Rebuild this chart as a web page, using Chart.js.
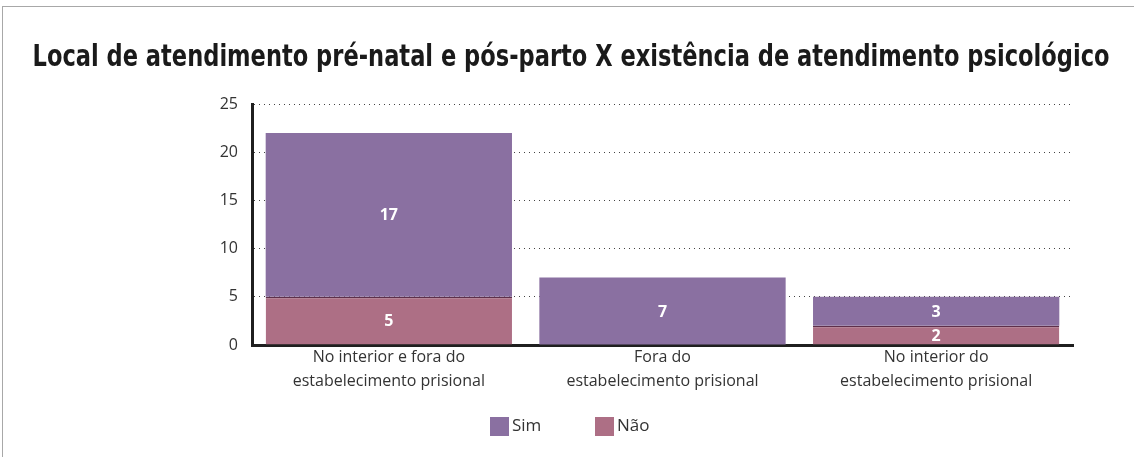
<!DOCTYPE html>
<html>
<head>
<meta charset="utf-8">
<script src="https://cdn.jsdelivr.net/npm/chart.js@4"></script>
<style>
  html, body { margin: 0; padding: 0; background: #fff; }
  #wrap { position: relative; width: 1134px; height: 457px; }
  #frame {
    position: absolute; left: 2px; top: 6px; right: 0; bottom: 0;
    border-top: 1px solid #a8a8a8; border-left: 1px solid #a8a8a8;
    pointer-events: none;
  }
</style>
</head>
<body>
<div id="wrap">
  <canvas id="chart" width="1134" height="457"></canvas>
  <div id="frame"></div>
</div>
<script>
const chartTitle = 'Local de atendimento pré-natal e pós-parto X existência de atendimento psicológico';
const categories = [
    ['No interior e fora do', 'estabelecimento prisional'],
    ['Fora do', 'estabelecimento prisional'],
    ['No interior do', 'estabelecimento prisional']
];
const simValues = [17, 7, 3];
const naoValues = [5, 0, 2];
const yTicks = [0, 5, 10, 15, 20, 25];
const legendOrder = ['Sim', 'Não'];

const textColor = '#333333';

// title drawn centred on the whole page, squeezed to the original's width
const pageTitle = {
    id: 'pageTitle',
    afterDraw(chart) {
        const ctx = chart.ctx;
        ctx.save();
        ctx.fillStyle = '#1a1a1a';
        ctx.font = 'bold 31px "DejaVu Sans", sans-serif';
        if ('fontStretch' in ctx) ctx.fontStretch = 'condensed';
        ctx.textAlign = 'center';
        ctx.textBaseline = 'middle';
        ctx.fillText(chartTitle, 571, 58, 1077);
        ctx.restore();
    }
};

// legend with the wide gap between items seen in the original
const bottomLegend = {
    id: 'bottomLegend',
    afterDraw(chart) {
        const ctx = chart.ctx;
        const xs = [490, 595];
        const top = 417, box = 19;
        ctx.save();
        ctx.font = '17px "Open Sans", sans-serif';
        ctx.textBaseline = 'middle';
        ctx.textAlign = 'left';
        legendOrder.forEach((name, i) => {
            const ds = chart.data.datasets.find(d => d.label === name);
            ctx.fillStyle = ds.backgroundColor;
            ctx.fillRect(xs[i], top, box, box);
            ctx.fillStyle = textColor;
            ctx.fillText(name, xs[i] + box + 3, top + box / 2);
        });
        ctx.restore();
    }
};

// values drawn in the middle of each segment
const segmentLabels = {
    id: 'segmentLabels',
    afterDatasetsDraw(chart) {
        const ctx = chart.ctx;
        ctx.save();
        ctx.fillStyle = '#ffffff';
        ctx.font = 'bold 16px "Open Sans", sans-serif';
        ctx.textAlign = 'center';
        ctx.textBaseline = 'middle';
        chart.data.datasets.forEach((ds, di) => {
            const meta = chart.getDatasetMeta(di);
            meta.data.forEach((bar, i) => {
                const v = ds.data[i];
                if (!v) return;
                ctx.fillText(String(v), bar.x, (bar.y + bar.base) / 2 + 1);
            });
        });
        ctx.restore();
    }
};

const ctx = document.getElementById('chart').getContext('2d');
new Chart(ctx, {
    type: 'bar',
    data: {
        labels: categories,
        datasets: [
            {
                label: 'Não',
                data: naoValues,
                backgroundColor: '#ad6f85',
                borderColor: '#5e2f4a',
                borderWidth: { top: 1.5, left: 0, right: 0, bottom: 0 },
                borderSkipped: false
            },
            {
                label: 'Sim',
                data: simValues,
                backgroundColor: '#8a70a1',
                borderWidth: 0
            }
        ]
    },
    options: {
        responsive: false,
        animation: false,
        layout: { padding: { top: 104, right: 61, bottom: 62, left: 0 } },
        datasets: {
            bar: { categoryPercentage: 0.9, barPercentage: 1 }
        },
        plugins: {
            title: { display: false },
            legend: { display: false },
            tooltip: { enabled: false }
        },
        scales: {
            x: {
                stacked: true,
                grid: { display: false },
                border: { display: true, color: '#1f1f1f', width: 3 },
                ticks: {
                    color: textColor,
                    font: { family: '"Open Sans", sans-serif', size: 16, lineHeight: 1.5 },
                    padding: -8,
                    maxRotation: 0
                },
                afterFit(scale) { scale.height = 50; }
            },
            y: {
                stacked: true,
                min: 0,
                max: 25,
                afterBuildTicks(scale) { scale.ticks = yTicks.map(v => ({ value: v })); },
                grid: {
                    color: '#444444',
                    lineWidth: 1,
                    drawTicks: false
                },
                border: { display: true, color: '#1f1f1f', width: 3, dash: [1, 4] },
                ticks: {
                    color: textColor,
                    font: { family: '"Open Sans", sans-serif', size: 16 },
                    padding: 14
                },
                afterFit(scale) { scale.width = 252; }
            }
        }
    },
    plugins: [segmentLabels, pageTitle, bottomLegend]
});
</script>
</body>
</html>
